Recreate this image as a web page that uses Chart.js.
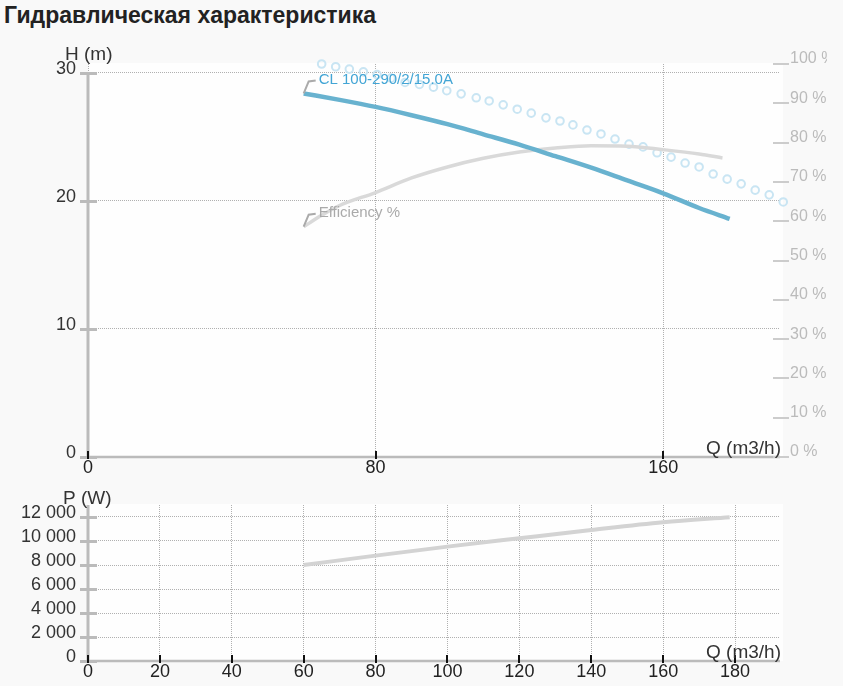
<!DOCTYPE html>
<html>
<head>
<meta charset="utf-8">
<script src="https://cdn.jsdelivr.net/npm/chart.js@4.4.1/dist/chart.umd.min.js"></script>
<style>
	body { margin: 0; background: #f9f9f9; }
	#title { position: absolute; left: 4px; top: 4px; margin: 0; font: bold 23px/23px "Liberation Sans", Arial, sans-serif; color: #222; }
	#wrapH { position: absolute; left: 0; top: 0; width: 827px; height: 480px; }
	#wrapP { position: absolute; left: 0; top: 480px; width: 843px; height: 206px; }
</style>
</head>
<body>
<h1 id="title">Гидравлическая характеристика</h1>
<div id="wrapH"><canvas id="chartH"></canvas></div>
<div id="wrapP"><canvas id="chartP"></canvas></div>
<script>
"use strict";

// head curve, m
const qHead = [60, 70, 80, 90, 100, 110, 120, 130, 140, 150, 160, 170, 178.5];
const head = [28.4, 27.9, 27.35, 26.7, 26.0, 25.2, 24.4, 23.5, 22.6, 21.6, 20.6, 19.45, 18.6];

// efficiency, %
const qEff = [60, 65, 70, 80, 90, 100, 110, 120, 130, 140, 150, 160, 170, 176.5];
const eff = [58.6, 61.5, 64.0, 67.3, 71.0, 73.8, 76.0, 77.6, 78.6, 79.2, 79.1, 78.2, 77.1, 76.1];

// dotted (circle) curve, on the % axis
const qDots = [65.0, 68.9, 72.7, 76.6, 80.4, 84.3, 88.2, 92.2, 96.1, 99.8, 103.8, 108.0, 111.6, 115.5, 119.4, 123.3, 127.4,
	131.3, 134.9, 138.8, 142.7, 146.6, 150.5, 154.4, 158.3, 162.2, 166.1, 170.0, 173.9, 177.8, 181.7, 185.6, 189.5, 193.4];
const dots = [100.0, 99.3, 98.7, 98.0, 97.3, 96.4, 95.3, 94.8, 94.1, 93.2, 92.4, 91.4, 90.6, 89.6, 88.5, 87.5, 86.3,
	85.5, 84.5, 83.2, 82.2, 80.9, 79.6, 78.9, 77.4, 76.3, 74.8, 73.8, 72.0, 70.7, 69.5, 67.9, 66.7, 64.9];

// power, W
const qPower = [60, 80, 100, 120, 140, 160, 178.5];
const power = [8000, 8780, 9530, 10230, 10920, 11560, 11980];

// tick values
const qTicksH = [0, 80, 160];
const qTicksP = [0, 20, 40, 60, 80, 100, 120, 140, 160, 180];
const hTicks = [0, 10, 20, 30];
const effTicks = [0, 10, 20, 30, 40, 50, 60, 70, 80, 90, 100];
const pTicks = [0, 2000, 4000, 6000, 8000, 10000, 12000];

const pumpName = "CL 100-290/2/15.0A";
const effName = "Efficiency %";

const FONT = "\"Liberation Sans\", Arial, sans-serif";
Chart.defaults.font.family = FONT;

function pts(xs, ys) {
	return xs.map((x, i) => ({ x: x, y: ys[i] }));
}

function spaced(v) {
	return String(Math.round(v)).replace(/\B(?=(\d{3})+(?!\d))/g, " ");
}

function fixTicks(values) {
	return s => { s.ticks = values.map(v => ({ value: v })); };
}

// white plot area, axis lines, tick marks, axis names, curve labels
function decor(cfg) {
	return {
		id: "decor",
		beforeDraw(chart) {
			const a = chart.chartArea;
			const ctx = chart.ctx;
			ctx.save();
			ctx.fillStyle = "#fefefe";
			ctx.fillRect(a.left, a.top - 1, a.right - a.left + 3, a.bottom - a.top + 1);
			ctx.restore();
		},
		afterDraw(chart) {
			const a = chart.chartArea;
			const ctx = chart.ctx;
			const x = chart.scales.x;
			const y = chart.scales.y;
			const y1 = chart.scales.y1;
			ctx.save();
			
			// axis lines
			ctx.strokeStyle = "#bbb";
			ctx.lineWidth = 3;
			ctx.beginPath();
			ctx.moveTo(a.left, a.bottom);
			ctx.lineTo(a.left, Math.round(y.getPixelForValue(cfg.yTop)));
			ctx.stroke();
			ctx.lineWidth = 2.5;
			ctx.beginPath();
			ctx.moveTo(a.left, a.bottom);
			ctx.lineTo(a.right, a.bottom);
			ctx.stroke();
			
			ctx.lineWidth = 3;
			y.ticks.forEach(t => {
				const py = Math.round(y.getPixelForValue(t.value)) + 0.5;
				ctx.beginPath();
				ctx.moveTo(a.left - 8, py);
				ctx.lineTo(a.left + 9, py);
				ctx.stroke();
			});
			
			if (y1) {
				ctx.strokeStyle = "#ccc";
				ctx.lineWidth = 2;
				y1.ticks.forEach(t => {
					const py = Math.round(y1.getPixelForValue(t.value));
					ctx.beginPath();
					ctx.moveTo(a.right - 7, py);
					ctx.lineTo(a.right + 9, py);
					ctx.stroke();
				});
			}
			
			ctx.strokeStyle = "#111";
			ctx.lineWidth = 2;
			x.ticks.forEach(t => {
				const px = Math.round(x.getPixelForValue(t.value));
				ctx.beginPath();
				ctx.moveTo(px, a.bottom - 6);
				ctx.lineTo(px, a.bottom + 2);
				ctx.stroke();
			});
			
			ctx.fillStyle = "#333";
			ctx.font = "19px " + FONT;
			ctx.textBaseline = "alphabetic";
			ctx.textAlign = "left";
			ctx.fillText(cfg.yName, cfg.yNameX, a.top + cfg.yNameDy);
			ctx.textAlign = "right";
			ctx.fillText(cfg.xName, a.right + 1, a.bottom - 3);
			
			cfg.labels.forEach(lab => {
				const el = chart.getDatasetMeta(lab.dataset).data[0];
				ctx.strokeStyle = "#aaa";
				ctx.lineWidth = 2;
				ctx.beginPath();
				ctx.moveTo(el.x, el.y);
				ctx.lineTo(el.x + 5, el.y - 12);
				ctx.lineTo(el.x + 12, el.y - 13);
				ctx.stroke();
				ctx.fillStyle = lab.color;
				ctx.font = "15px " + FONT;
				ctx.textAlign = "left";
				ctx.textBaseline = "middle";
				ctx.fillText(lab.text, el.x + 15, el.y - 14);
			});
			ctx.restore();
		},
	};
}

function xScale(ticks, height) {
	return {
		type: "linear",
		min: 0,
		max: 192.5,
		afterFit: s => { s.height = height; },
		afterBuildTicks: fixTicks(ticks),
		ticks: { color: "#222", font: { size: 18 }, padding: 0, maxRotation: 0, autoSkip: false },
		grid: { color: "#b0b0b0", lineWidth: 1, drawTicks: false },
		border: { display: false, dash: [1, 1] },
	};
}

const hChart = new Chart(document.getElementById("chartH"), {
	type: "line",
	data: {
		datasets: [
			{
				label: pumpName,
				data: pts(qHead, head),
				yAxisID: "y",
				borderColor: "#68b2cf",
				borderWidth: 4.5,
				pointRadius: 0,
				cubicInterpolationMode: "monotone",
			},
			{
				label: effName,
				data: pts(qEff, eff),
				yAxisID: "y1",
				borderColor: "#d9d9d9",
				borderWidth: 3.5,
				pointRadius: 0,
				cubicInterpolationMode: "monotone",
			},
			{
				label: "dots",
				data: pts(qDots, dots),
				yAxisID: "y1",
				showLine: false,
				pointRadius: 3.8,
				pointBorderWidth: 2,
				pointBorderColor: "#c9e5f3",
				pointBackgroundColor: "rgba(0,0,0,0)",
				clip: false,
			},
		],
	},
	options: {
		responsive: true,
		maintainAspectRatio: false,
		animation: false,
		devicePixelRatio: 1,
		layout: { padding: { top: 64, left: 0, right: 0, bottom: 0 }, autoPadding: false },
		plugins: { legend: { display: false }, tooltip: { enabled: false } },
		scales: {
			x: xScale(qTicksH, 23),
			y: {
				position: "left",
				min: 0,
				max: 30.7,
				afterFit: s => { s.width = 88; },
				afterBuildTicks: fixTicks(hTicks),
				ticks: { color: "#333", font: { size: 18 }, padding: 12, labelOffset: -4 },
				grid: { color: "#b0b0b0", lineWidth: 1, drawTicks: false },
				border: { display: false, dash: [1, 1] },
			},
			y1: {
				position: "right",
				min: 0,
				max: 100,
				afterFit: s => { s.width = 47; },
				afterBuildTicks: fixTicks(effTicks),
				ticks: { color: "#bbb", font: { size: 16 }, padding: 10, labelOffset: -5,
					callback: v => v + " %" },
				grid: { drawOnChartArea: false, drawTicks: false },
				border: { display: false },
			},
		},
	},
	plugins: [decor({
		yName: "H (m)", yNameX: 65, yNameDy: -4, yTop: 30, xName: "Q (m3/h)",
		labels: [
			{ dataset: 0, text: pumpName, color: "#42a5d5" },
			{ dataset: 1, text: effName, color: "#aaa" },
		],
	})],
});

const pChart = new Chart(document.getElementById("chartP"), {
	type: "line",
	data: {
		datasets: [
			{
				label: "P",
				data: pts(qPower, power),
				borderColor: "#d3d3d3",
				borderWidth: 4,
				pointRadius: 0,
				cubicInterpolationMode: "monotone",
			},
		],
	},
	options: {
		responsive: true,
		maintainAspectRatio: false,
		animation: false,
		devicePixelRatio: 1,
		layout: { padding: { top: 25, left: 0, right: 63, bottom: 0 }, autoPadding: false },
		plugins: { legend: { display: false }, tooltip: { enabled: false } },
		scales: {
			x: xScale(qTicksP, 25),
			y: {
				position: "left",
				min: 0,
				max: 13000,
				afterFit: s => { s.width = 88; },
				afterBuildTicks: fixTicks(pTicks),
				ticks: { color: "#333", font: { size: 18 }, padding: 12, labelOffset: -4,
					callback: v => spaced(v) },
				grid: { color: "#b0b0b0", lineWidth: 1, drawTicks: false },
				border: { display: false, dash: [1, 1] },
			},
		},
	},
	plugins: [decor({
		yName: "P (W)", yNameX: 63, yNameDy: -1, yTop: 13000, xName: "Q (m3/h)",
		labels: [],
	})],
});
</script>
</body>
</html>
